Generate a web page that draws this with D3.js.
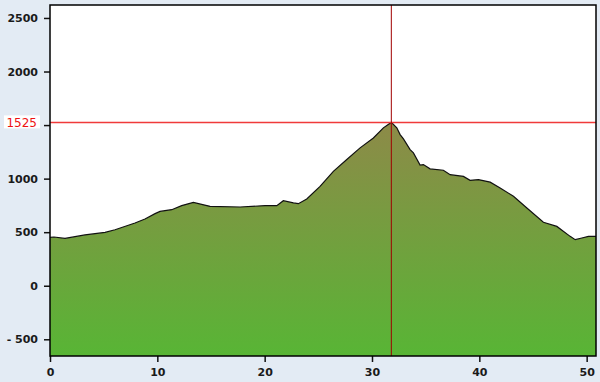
<!DOCTYPE html>
<html>
<head>
<meta charset="utf-8">
<style>
  body { margin: 0; background: #e3ebf4; }
  svg { display: block; }
  .tick text { font-family: "DejaVu Sans", sans-serif; font-weight: bold; font-size: 11px; fill: #1a1a1a; }
</style>
</head>
<body>
<svg width="600" height="382"></svg>
<script src="https://d3js.org/d3.v7.min.js"></script>
<script>

// distance (km) and elevation (m) read from the profile
var dist = [0, 0.37, 1.4, 3.26, 5.13, 6.06, 7.92, 8.85, 9.79, 10.25, 11.34, 12.27, 13.36, 14.91,
  17.71, 20.04, 21.13, 21.74, 22.68, 23.14, 23.92, 25.16, 26.4, 27.65, 28.89, 30.13, 31.06,
  31.8, 32.31, 32.62, 32.93, 33.55, 33.86, 34.48, 34.79, 35.41, 36.65, 37.28, 38.52, 39.14,
  39.92, 41.01, 41.94, 43.18, 44.43, 45.97, 47.22, 48.46, 48.93, 49.55, 50.17, 50.87];
var elev = [451, 455, 442, 474, 498, 523, 586, 623, 673, 694, 710, 748, 778, 741,
  735, 748, 748, 794, 773, 766, 810, 928, 1068, 1178, 1287, 1380, 1474,
  1525, 1474, 1411, 1371, 1271, 1240, 1126, 1131, 1091, 1078, 1037, 1021, 984,
  991, 967, 913, 835, 726, 592, 554, 461, 430, 446, 461, 461];

var xTicks = [0, 10, 20, 30, 40, 50];
var yTicks = [-500, 0, 500, 1000, 1500, 2000, 2500];
var markerDist = 31.8;
var markerElev = 1525;

var svg = d3.select("svg"),
    margin = {top: 5, right: 4, bottom: 26, left: 50},
    width = +svg.attr("width") - margin.left - margin.right,
    height = +svg.attr("height") - margin.top - margin.bottom;

var g = svg.append("g").attr("transform", "translate(" + margin.left + "," + margin.top + ")");

var x = d3.scaleLinear().domain([0, 50.87]).range([0, width]);
var y = d3.scaleLinear().domain([-656, 2621]).range([height, 0]);

var data = dist.map(function(d, i) { return {d: d, e: elev[i]}; });

var grad = svg.append("defs").append("linearGradient")
    .attr("id", "fillGrad")
    .attr("gradientUnits", "userSpaceOnUse")
    .attr("x1", 0).attr("x2", 0)
    .attr("y1", y(markerElev)).attr("y2", height);
grad.append("stop").attr("offset", "0%").attr("stop-color", "#8d8a48");
grad.append("stop").attr("offset", "100%").attr("stop-color", "#58b535");

g.append("rect").attr("width", width).attr("height", height).attr("fill", "#fff");

g.append("path")
    .datum(data)
    .attr("fill", "url(#fillGrad)")
    .attr("d", d3.area().x(function(d) { return x(d.d); }).y0(height).y1(function(d) { return y(d.e); }));

g.append("path")
    .datum(data)
    .attr("fill", "none")
    .attr("stroke", "#111")
    .attr("stroke-width", 1.2)
    .attr("d", d3.line().x(function(d) { return x(d.d); }).y(function(d) { return y(d.e); }));

// marker lines
g.append("line")
    .attr("x1", 0).attr("x2", width)
    .attr("y1", y(markerElev)).attr("y2", y(markerElev))
    .attr("stroke", "#f03a3a").attr("stroke-width", 1.5);
g.append("line")
    .attr("x1", x(markerDist)).attr("x2", x(markerDist))
    .attr("y1", 0).attr("y2", height)
    .attr("stroke", "#a00000").attr("stroke-width", 1);

// the 1500 label sits under the highlighted 1525 label, so only its tick shows
var yAxis = g.append("g")
    .call(d3.axisLeft(y).tickValues(yTicks).tickSize(6).tickPadding(6)
      .tickFormat(function(d) { return d === 1500 ? "" : d < 0 ? "- " + Math.abs(d) : d; }));
yAxis.select(".domain").remove();
yAxis.selectAll("line").attr("stroke", "#111").attr("stroke-width", 1.5);

var xAxis = g.append("g")
    .attr("transform", "translate(0," + height + ")")
    .call(d3.axisBottom(x).tickValues(xTicks).tickSize(6).tickPadding(6));
xAxis.select(".domain").remove();
xAxis.selectAll("line").attr("stroke", "#111").attr("stroke-width", 1.5);

// highlighted elevation label
var lbl = g.append("g").attr("transform", "translate(-13," + y(markerElev) + ")");
lbl.append("rect").attr("x", -33).attr("y", -7).attr("width", 36).attr("height", 13).attr("fill", "#fff");
lbl.append("text")
    .attr("text-anchor", "end").attr("dy", "0.35em")
    .attr("font-family", "DejaVu Sans, sans-serif").attr("font-size", 12)
    .attr("fill", "#ee1111")
    .text(markerElev);

// frame
g.append("rect").attr("width", width).attr("height", height)
    .attr("fill", "none").attr("stroke", "#000").attr("stroke-width", 1.5);
</script>
</body>
</html>
